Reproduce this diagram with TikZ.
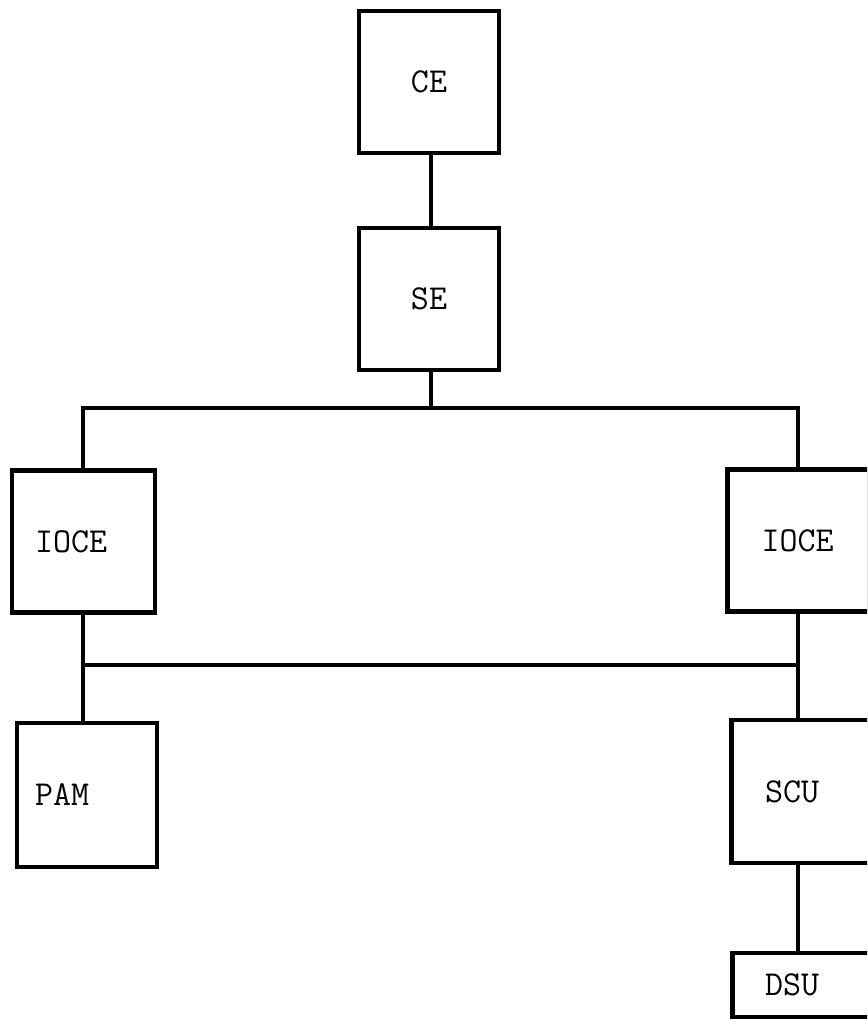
\documentclass[tikz,border=0pt]{standalone}
\tikzset{
    unit/.style={draw, line width=4.6pt, minimum width=140pt, minimum height=142pt,
        align=left, font=\fontsize{35}{40}\selectfont\ttfamily},
    wire/.style={line width=4.2pt}
}
\begin{document}
\begin{tikzpicture}[x=1pt,y=-1pt]
    \useasboundingbox (0,0) rectangle (867,1019);
    \clip (0,0) rectangle (867,1019);

    \node[unit, align=center] (ce) at (429,82) {CE};
    \node[unit, align=center] (se) at (429,299) {SE};

    \node[unit, text width=97pt, inner xsep=23pt] (ioceL) at (83.5,541.5) {IOCE};
    \node[unit, text width=74pt, inner xsep=34pt] (ioceR) at (798.5,540.5) {IOCE};

    \node[unit, text width=104pt, inner xsep=18pt, minimum height=144pt] (pam) at (87,795) {PAM};
    \node[unit, text width=73pt, inner xsep=32pt, minimum height=143pt] (scu) at (801.5,791.5) {SCU};
    \node[unit, text width=75pt, inner xsep=30pt, minimum height=64pt] (dsu) at (802.5,985) {DSU};

    % upper bus
    \coordinate (bus1w) at (83,408);
    \coordinate (bus1e) at (798,408);
    % lower bus
    \coordinate (bus2w) at (83,665);
    \coordinate (bus2e) at (798,665);

    \draw[wire] (ce.south -| 431,0) -- (se.north -| 431,0);
    \draw[wire] (se.south -| 431,0) -- (bus1w -| 431,0);
    \draw[wire] (bus1w |- ioceL.north) -- (bus1w) -- (bus1e) -- (bus1e |- ioceR.north);

    \draw[wire] (bus2w |- ioceL.south) -- (bus2w |- pam.north);
    \draw[wire] (bus2e |- ioceR.south) -- (bus2e |- scu.north);
    \draw[wire] (bus2w) -- (bus2e);
    \draw[wire] (bus2e |- scu.south) -- (bus2e |- dsu.north);
\end{tikzpicture}
\end{document}
